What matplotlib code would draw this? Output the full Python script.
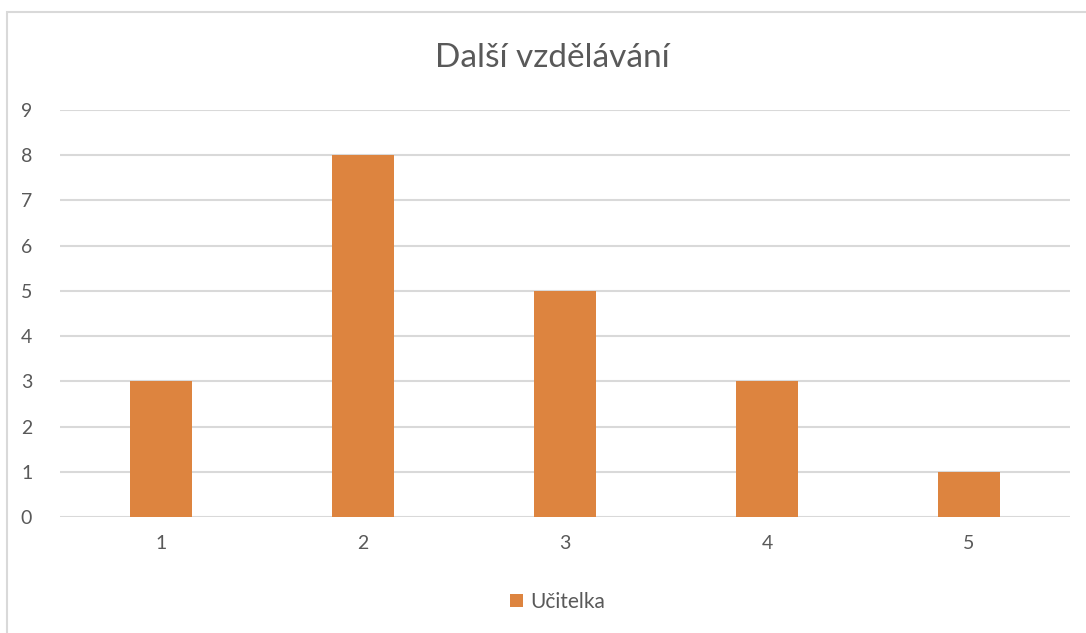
import matplotlib.pyplot as plt
from matplotlib.patches import Rectangle

# chart data
categories = ["1", "2", "3", "4", "5"]
values = [3, 8, 5, 3, 1]
series_name = "Učitelka"
title = "Další vzdělávání"

W, H = 1086, 633
plt.rcParams['font.family'] = ['Lato', 'DejaVu Sans']

fig = plt.figure(figsize=(W / 100, H / 100), dpi=100)

# outer chart frame (cut off at right and bottom like the screenshot)
fig.patches.append(Rectangle((7 / W, -0.1), 1.2, 1 - 12 / H + 0.1,
                             transform=fig.transFigure, fill=False,
                             edgecolor='#D9D9D9', linewidth=1.5))

ax = fig.add_axes([60 / W, 1 - 517 / H, 1010 / W, 407 / H])
x = range(len(categories))
ax.bar(x, values, width=0.31, color='#DD843F', label=series_name, zorder=3)

ax.set_xlim(-0.5, len(categories) - 0.5)
ax.set_ylim(0, 9)
ax.set_yticks(range(0, 10))
ax.set_xticks(list(x))
ax.set_xticklabels(categories)
ax.grid(axis='y', color='#D9D9D9', linewidth=1.5, zorder=0)
for s in ax.spines.values():
    s.set_visible(False)
ax.tick_params(length=0, labelsize=14, labelcolor='#595959')
ax.tick_params(axis='y', pad=20)
ax.tick_params(axis='x', pad=13)

fig.text(552 / W, 1 - 58 / H, title, ha='center', va='center',
         fontsize=24, color='#595959')

ax.legend(loc='center', bbox_to_anchor=(558 / W, 1 - 602 / H),
          bbox_transform=fig.transFigure, frameon=False, fontsize=15,
          labelcolor='#595959', handlelength=0.62, handleheight=0.62,
          handletextpad=0.35)

fig.savefig("out.png", dpi=100)
